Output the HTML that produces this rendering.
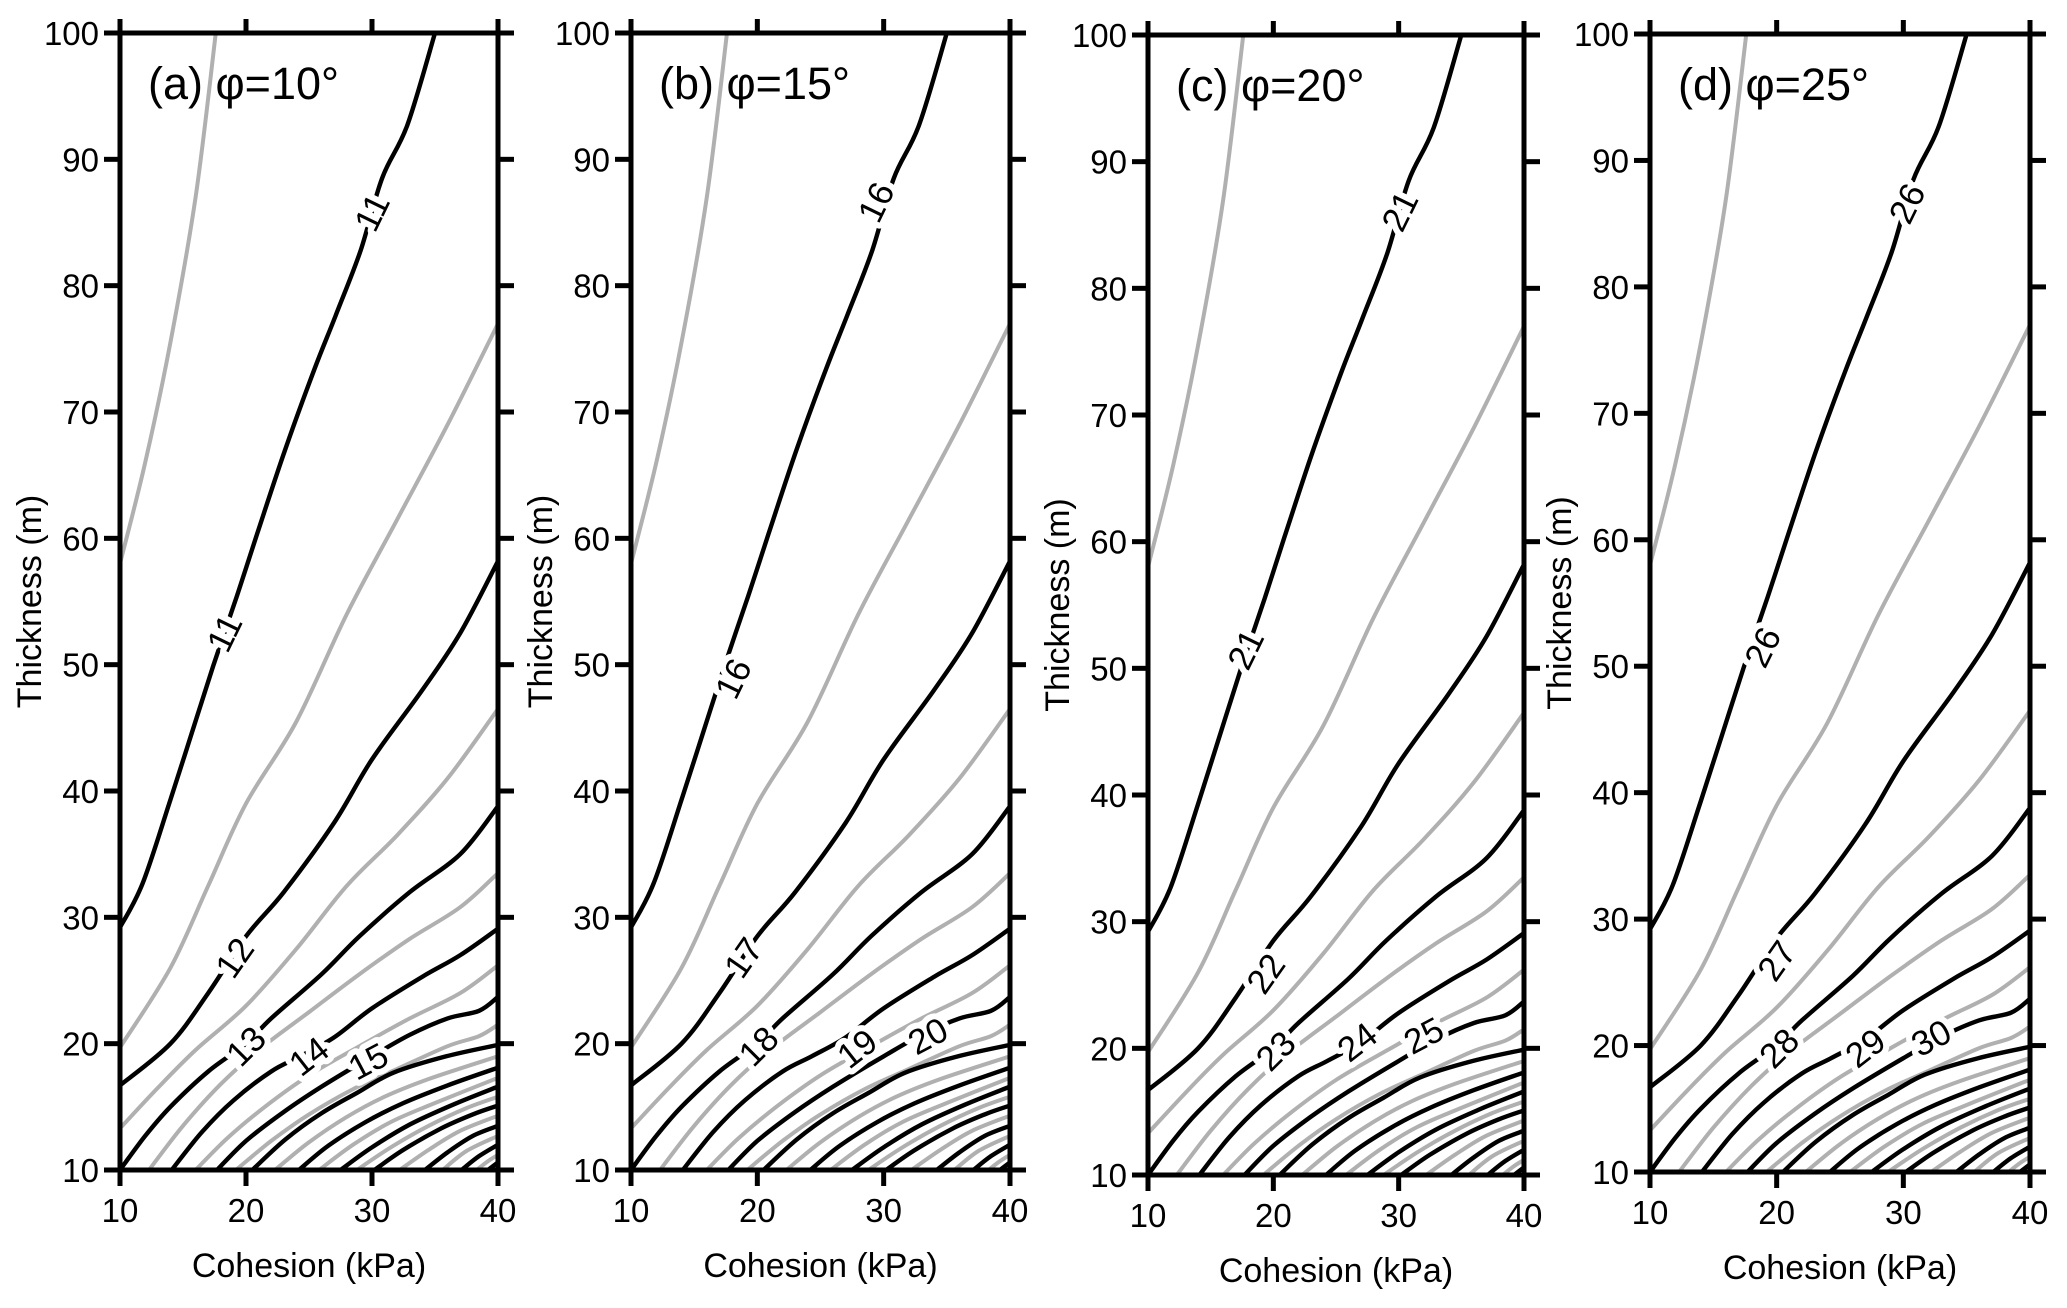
<!DOCTYPE html>
<html><head><meta charset="utf-8"><style>
html,body{margin:0;padding:0;background:#fff;}
svg{display:block;font-family:"Liberation Sans",sans-serif;}
</style></head><body>
<svg id="fig" width="2067" height="1308" viewBox="0 0 2067 1308" xmlns="http://www.w3.org/2000/svg"></svg>
<script>
// ---- data ----
const panelTitles = ["(a)", "(b)", "(c)", "(d)"];
const panelPhi = ["φ=10°", "φ=15°", "φ=20°", "φ=25°"];
const xTicks = [10, 20, 30, 40];
const yTicks = [10, 20, 30, 40, 50, 60, 70, 80, 90, 100];
// contour geometry in data units [cohesion, thickness]
const contourPoints = [
  [[10,58],[12,66],[14,75.5],[16,87],[17.6,100]],
  [[10,29.2],[11.8,32.7],[14,39.3],[15.7,44.6],[17.4,49.9],[19.3,55.5],[20.9,60.4],[23.1,67],[25.4,73.3],[27.1,77.6],[29.1,82.8],[30.8,88.5],[32.8,92.7],[35,100]],
  [[10,19.7],[14,26],[17,32.5],[20,39],[24,45.5],[28,54],[32,61.5],[36,69],[40,77]],
  [[10,16.7],[14,20],[17,24],[20,28.5],[23,32],[27,37.5],[30,42.5],[34,48],[37,52.5],[40,58.2]],
  [[10,13.3],[13,16.5],[16,19.5],[20,23],[24,27.5],[28,32.5],[32,36.5],[36,41],[40,46.5]],
  [[10,10],[12,12.7],[14,15],[17,17.8],[20,20],[22,22],[26,25.5],[29,28.5],[33,32],[37,35],[40,38.8]],
  [[12.3,10],[15,13.5],[18,16.8],[21,19.5],[25,22.5],[29,25.5],[33,28.3],[37,30.8],[40,33.5]],
  [[14.1,10],[16.5,13],[19,15.5],[22,17.8],[24.3,19],[27,20.5],[30,22.8],[34,25.3],[37,27],[40,29.1]],
  [[16,10],[18.5,12.5],[21.5,15],[25,17.5],[29,19.8],[33,22],[37,24],[40,26.2]],
  [[17.7,10],[20,12.3],[23,14.6],[26,16.6],[30,19],[33,20.7],[36,22],[38.5,22.6],[40,23.7]],
  [[19.2,10],[22,12.3],[25,14.4],[28.5,16.4],[32,18],[36,19.8],[38.5,20.6],[40,21.5]],
  [[20.5,10],[23.1,12.4],[26,14.5],[28.8,16.1],[31.7,17.7],[35.9,19],[40,19.9]],
  [[22.3,10],[25,12.2],[28,14.2],[31,15.8],[34.5,17.2],[40,19]],
  [[24.2,10],[26.5,11.9],[29.5,13.8],[32.5,15.3],[36,16.7],[40,18.1]],
  [[25.8,10],[28.5,12],[31.5,13.8],[35,15.3],[40,17.3]],
  [[27.5,10],[30,11.8],[33,13.6],[36.5,15.2],[40,16.6]],
  [[28.8,10],[31.5,11.8],[34.5,13.5],[37.5,14.9],[40,15.8]],
  [[30.2,10],[32.5,11.6],[35.5,13.3],[38,14.4],[40,15.1]],
  [[32.2,10],[34.5,11.6],[37,13.1],[40,14.3]],
  [[34.2,10],[36,11.4],[38,12.7],[40,13.5]],
  [[35.6,10],[37.5,11.5],[40,12.7]],
  [[37.1,10],[38.5,11.1],[40,12]],
  [[38.3,10],[39.2,10.7],[40,11.2]],
  [[39.2,10],[40,10.6]]
];
const levelsA = [10.5,11,11.5,12,12.5,13,13.5,14,14.5,15,15.5,16,16.5,17,17.5,18,18.5,19,19.5,20,20.5,21,21.5,22];
const levelsB = [15.5,16,16.5,17,17.5,18,18.5,19,19.5,20,20.5,21,21.5,22,22.5,23,23.5,24,24.5,25,25.5,26,26.5,27];
const levelsC = [20.5,21,21.5,22,22.5,23,23.5,24,24.5,25,25.5,26,26.5,27,27.5,28,28.5,29,29.5,30,30.5,31,31.5,32];
const levelsD = [25.5,26,26.5,27,27.5,28,28.5,29,29.5,30,30.5,31,31.5,32,32.5,33,33.5,34,34.5,35,35.5,36,36.5,37];
const panelLevels = [levelsA, levelsB, levelsC, levelsD];
// contour labels: text, cohesion, thickness, angle
const labelTextA = ["11","11","12","13","14","15"];
const labelCA = [30.0,18.3,19.1,20.0,25.0,29.7];
const labelTA = [85.8,52.5,26.8,19.8,19.0,18.6];
const labelTextB = ["16","16","17","18","19","20"];
const labelCB = [29.4,18.1,18.9,20.1,27.9,33.5];
const labelTB = [86.6,48.9,26.8,19.8,19.6,20.6];
const labelTextC = ["21","21","22","23","24","25"];
const labelCC = [30.1,17.8,19.4,20.2,26.7,32.0];
const labelTC = [86.1,51.5,25.9,19.8,20.5,21.0];
const labelTextD = ["26","26","27","28","29","30"];
const labelCD = [30.3,18.9,20.0,20.2,27.0,32.2];
const labelTD = [86.6,51.5,26.7,19.8,19.8,20.6];
const labelAngle = [-64,-64,-55,-45,-38,-28];
const panelLabelText = [labelTextA,labelTextB,labelTextC,labelTextD];
const panelLabelC = [labelCA,labelCB,labelCC,labelCD];
const panelLabelT = [labelTA,labelTB,labelTC,labelTD];

// ---- layout ----
const boxes = [
  {l:120, r:498, t:33, b:1170},
  {l:631, r:1010, t:33, b:1170},
  {l:1148, r:1524, t:35, b:1175},
  {l:1650, r:2030, t:34, b:1172}
];
const NS = "http://www.w3.org/2000/svg";
const svg = document.getElementById("fig");
function mk(tag, attrs, parent){ const e=document.createElementNS(NS,tag); for(const k in attrs) e.setAttribute(k,attrs[k]); (parent||svg).appendChild(e); return e; }
function smoothPath(P){
  if(P.length<3) return "M"+P.map(p=>p[0].toFixed(1)+","+p[1].toFixed(1)).join(" L");
  let d="M"+P[0][0].toFixed(1)+","+P[0][1].toFixed(1);
  for(let i=0;i<P.length-1;i++){
    const p0=P[i-1]||P[i], p1=P[i], p2=P[i+1], p3=P[i+2]||P[i+1];
    const c1=[p1[0]+(p2[0]-p0[0])/6, p1[1]+(p2[1]-p0[1])/6];
    const c2=[p2[0]-(p3[0]-p1[0])/6, p2[1]-(p3[1]-p1[1])/6];
    d+=" C"+c1[0].toFixed(1)+","+c1[1].toFixed(1)+" "+c2[0].toFixed(1)+","+c2[1].toFixed(1)+" "+p2[0].toFixed(1)+","+p2[1].toFixed(1);
  }
  return d;
}

const defs = mk("defs",{});
boxes.forEach((B,p)=>{
  const sx = c => B.l + (c-10)/30*(B.r-B.l);
  const sy = t => B.b - (t-10)/90*(B.b-B.t);
  const g = mk("g",{});
  
  
  const cp = mk("clipPath",{id:"clip"+p}, defs);
  mk("rect",{x:B.l,y:B.t,width:B.r-B.l,height:B.b-B.t}, cp);
  const cg = mk("g",{"clip-path":"url(#clip"+p+")"}, g);
  
  
  const levels = panelLevels[p];
  [true,false].forEach(grayPass=>{
    contourPoints.forEach((pts,i)=>{
      const lv = levels[i];
      const isGray = (lv % 1) !== 0;
      if(isGray!==grayPass) return;
      const d = smoothPath(pts.map(q=>[sx(q[0]), sy(q[1])]));
      const path = mk("path",{d:d,fill:"none",stroke:isGray?"#b0b0b0":"#000","stroke-width":isGray?4:4.4,"stroke-linejoin":"round","stroke-linecap":"round"}, cg);
      
      
    });
  });
  const lt = panelLabelText[p], lc = panelLabelC[p], ltt = panelLabelT[p];
  lt.forEach((txt,i)=>{
    const x = sx(lc[i]), y = sy(ltt[i]);
    const t = mk("text",{x:x,y:y+12,"text-anchor":"middle","font-size":35,fill:"#000",stroke:"#fff","stroke-width":12,"paint-order":"stroke","stroke-linejoin":"round",transform:"rotate("+labelAngle[i]+" "+x+" "+y+")"}, g);
    t.textContent = txt;
    
    
  });
  const fr = mk("rect",{x:B.l,y:B.t,width:B.r-B.l,height:B.b-B.t,fill:"none",stroke:"#000","stroke-width":5}, g);
  
  
  xTicks.forEach(v=>{
    const x = sx(v);
    mk("line",{x1:x,x2:x,y1:B.b,y2:B.b+16,stroke:"#000","stroke-width":5}, g);
    mk("line",{x1:x,x2:x,y1:B.t,y2:B.t-14,stroke:"#000","stroke-width":5}, g);
    const t = mk("text",{x:x,y:B.b+52,"text-anchor":"middle","font-size":33,fill:"#000"}, g);
    t.textContent = v;
    
    
  });
  yTicks.forEach(v=>{
    const y = sy(v);
    mk("line",{x1:B.l-16,x2:B.l,y1:y,y2:y,stroke:"#000","stroke-width":5}, g);
    mk("line",{x1:B.r,x2:B.r+16,y1:y,y2:y,stroke:"#000","stroke-width":5}, g);
    const t = mk("text",{x:B.l-21,y:y+12,"text-anchor":"end","font-size":33,fill:"#000"}, g);
    t.textContent = v;
    
    
  });
  const xt = mk("text",{x:(B.l+B.r)/2,y:B.b+107,"text-anchor":"middle","font-size":34,fill:"#000"}, g);
  xt.textContent = "Cohesion (kPa)";
  
  
  const yx = B.l-79, yy = (B.t+B.b)/2;
  const yt = mk("text",{x:yx,y:yy,"text-anchor":"middle","font-size":34,fill:"#000",transform:"rotate(-90 "+yx+" "+yy+")"}, g);
  yt.textContent = "Thickness (m)";
  
  
  const tt = mk("text",{x:B.l+28,y:B.t+66,"font-size":45,fill:"#000"}, g);
  tt.textContent = panelTitles[p] + " " + panelPhi[p];
  
  
});
</script>
</body></html>
